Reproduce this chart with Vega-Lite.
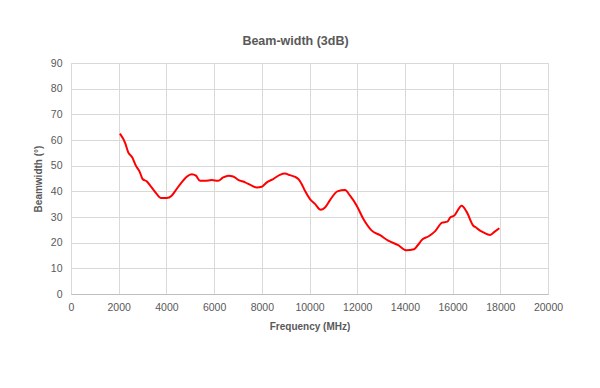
{
  "$schema": "https://vega.github.io/schema/vega-lite/v6.json",
  "width": 477,
  "height": 231,
  "autosize": "none",
  "padding": {"left": 71, "top": 63, "right": 52, "bottom": 94},
  "background": "white",
  "title": {
    "text": "Beam-width (3dB)",
    "fontSize": 12.5,
    "font": "Liberation Sans",
    "fontWeight": "bold",
    "color": "#595959",
    "anchor": "middle",
    "dx": -14,
    "offset": 11
  },
  "data": {
    "values": [
      {"f": 2050, "bw": 62.5}, {"f": 2260, "bw": 59.1}, {"f": 2400, "bw": 55.2}, {"f": 2570, "bw": 53.2},
      {"f": 2720, "bw": 50}, {"f": 2890, "bw": 47.4}, {"f": 3000, "bw": 44.8}, {"f": 3170, "bw": 43.9},
      {"f": 3380, "bw": 41.5}, {"f": 3590, "bw": 39}, {"f": 3770, "bw": 37.4}, {"f": 4010, "bw": 37.4},
      {"f": 4220, "bw": 38.3}, {"f": 4430, "bw": 40.9}, {"f": 4640, "bw": 43.5}, {"f": 4850, "bw": 45.7},
      {"f": 5060, "bw": 46.7}, {"f": 5240, "bw": 46.1}, {"f": 5410, "bw": 44.1}, {"f": 5620, "bw": 44.1},
      {"f": 5900, "bw": 44.4}, {"f": 6170, "bw": 44.1}, {"f": 6380, "bw": 45.4}, {"f": 6600, "bw": 46.1},
      {"f": 6800, "bw": 45.8}, {"f": 7010, "bw": 44.5}, {"f": 7300, "bw": 43.5}, {"f": 7580, "bw": 42.2},
      {"f": 7790, "bw": 41.5}, {"f": 8000, "bw": 41.8}, {"f": 8210, "bw": 43.5}, {"f": 8480, "bw": 44.8},
      {"f": 8760, "bw": 46.4}, {"f": 8970, "bw": 46.9}, {"f": 9180, "bw": 46.3}, {"f": 9400, "bw": 45.6},
      {"f": 9530, "bw": 44.8}, {"f": 9670, "bw": 42.9}, {"f": 9810, "bw": 40.2}, {"f": 10020, "bw": 37},
      {"f": 10230, "bw": 35.1}, {"f": 10470, "bw": 32.8}, {"f": 10650, "bw": 33.7}, {"f": 10860, "bw": 36.6},
      {"f": 11170, "bw": 40}, {"f": 11490, "bw": 40.5}, {"f": 11700, "bw": 38.3}, {"f": 11980, "bw": 34.4},
      {"f": 12260, "bw": 29.2}, {"f": 12610, "bw": 24.7}, {"f": 12960, "bw": 22.9}, {"f": 13300, "bw": 20.8},
      {"f": 13720, "bw": 19}, {"f": 14060, "bw": 17}, {"f": 14380, "bw": 17.4}, {"f": 14520, "bw": 18.8},
      {"f": 14740, "bw": 21.3}, {"f": 14980, "bw": 22.4}, {"f": 15260, "bw": 24.4}, {"f": 15560, "bw": 27.8},
      {"f": 15780, "bw": 28.2}, {"f": 15900, "bw": 29.8}, {"f": 16060, "bw": 30.5}, {"f": 16380, "bw": 34.4},
      {"f": 16590, "bw": 32}, {"f": 16870, "bw": 26.6}, {"f": 16980, "bw": 25.9}, {"f": 17150, "bw": 24.7},
      {"f": 17290, "bw": 24}, {"f": 17570, "bw": 23}, {"f": 17780, "bw": 24.4}, {"f": 17960, "bw": 25.6}
    ]
  },
  "mark": {"type": "line", "color": "#ff0000", "strokeWidth": 2, "interpolate": "monotone"},
  "encoding": {
    "x": {
      "field": "f",
      "type": "quantitative",
      "scale": {"domain": [0, 20000], "nice": false, "zero": true},
      "axis": {
        "title": "Frequency (MHz)",
        "values": [0, 2000, 4000, 6000, 8000, 10000, 12000, 14000, 16000, 18000, 20000],
        "format": "d",
        "labelFlush": false,
        "labelOverlap": false,
        "ticks": false,
        "labelPadding": 8,
        "titlePadding": 9
      }
    },
    "y": {
      "field": "bw",
      "type": "quantitative",
      "scale": {"domain": [0, 90], "nice": false},
      "axis": {
        "title": "Beamwidth (°)",
        "values": [0, 10, 20, 30, 40, 50, 60, 70, 80, 90],
        "ticks": false,
        "domain": false,
        "labelPadding": 9,
        "titlePadding": 7
      }
    }
  },
  "config": {
    "view": {"stroke": "#d9d9d9", "strokeWidth": 1},
    "axis": {
      "labelFont": "Liberation Sans",
      "labelFontSize": 10.5,
      "labelColor": "#595959",
      "titleFont": "Liberation Sans",
      "titleFontSize": 10,
      "titleFontWeight": "bold",
      "titleColor": "#595959",
      "gridColor": "#d9d9d9",
      "gridWidth": 1,
      "domainColor": "#bfbfbf"
    }
  }
}
